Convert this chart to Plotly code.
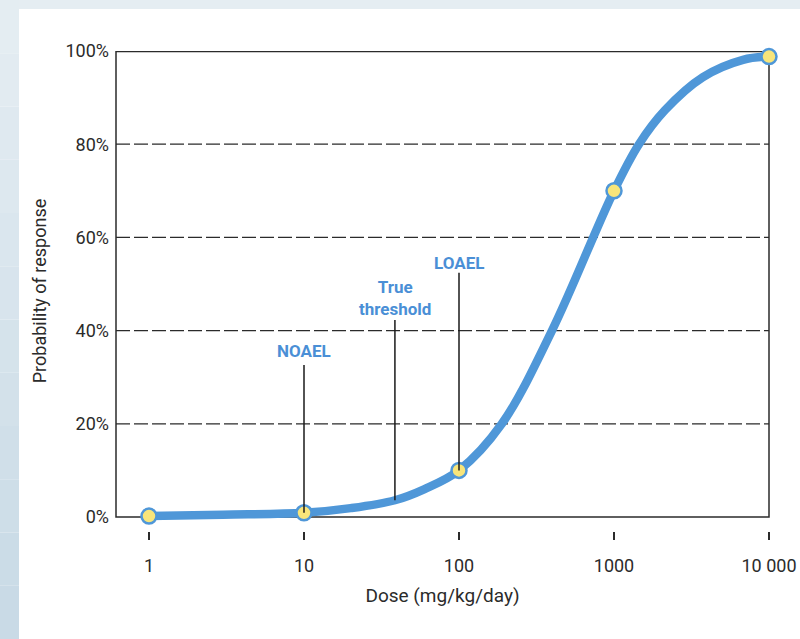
import numpy as np
import plotly.graph_objects as go

# ---- data ----
doses = [1, 10, 100, 1000, 10000]
probs = [0.2, 0.9, 10, 70, 98.8]

curve_dose = [1, 3, 10, 20, 38.6, 60, 100, 189, 398, 1000, 1449, 2133, 3750, 6790, 10000]
curve_prob = [0.2, 0.5, 0.9, 1.9, 3.6, 6, 10, 20, 40, 70, 80, 87.3, 94.4, 98.1, 98.8]

x_tickvals = [1, 10, 100, 1000, 10000]
x_ticktext = ["1", "10", "100", "1000", "10 000"]
y_tickvals = [0, 20, 40, 60, 80, 100]
y_ticktext = ["0%", "20%", "40%", "60%", "80%", "100%"]

markers_lbl = ["NOAEL", "True<br>threshold", "LOAEL"]
markers_dose = [10, 38.6, 100]
line_top = [32.6, 42.3, 52.4]
line_bottom = [0.9, 3.6, 10]
label_y = [35.6, 47.0, 54.6]

FONT = "Roboto, 'Liberation Sans', sans-serif"
BLUE = "#4f97d8"
LBL = "#4a8fd6"
YEL = "#f8e57a"
DARK = "#2b2b2b"

W, H = 800, 639
L, R, T, B = 116, 31, 51, 108
PW, PH = W - L - R, H - T - B

def px(x):
    return (x - L) / PW

def py(y):
    return (H - B - y) / PH

fig = go.Figure()

fig.add_trace(go.Scatter(
    x=curve_dose, y=curve_prob, mode="lines",
    line=dict(color=BLUE, width=8.5, shape="spline", smoothing=1.0),
    hoverinfo="skip", showlegend=False))

fig.add_trace(go.Scatter(
    x=doses, y=probs, mode="markers",
    marker=dict(size=15, color=YEL, line=dict(color=BLUE, width=2.5)),
    cliponaxis=False, showlegend=False))

for d, t, b in zip(markers_dose, line_top, line_bottom):
    fig.add_trace(go.Scatter(
        x=[d, d], y=[t, b], mode="lines",
        line=dict(color="#1a1a1a", width=1.5),
        hoverinfo="skip", showlegend=False))

for lbl, d, yv in zip(markers_lbl, markers_dose, label_y):
    fig.add_annotation(
        x=np.log10(d), y=yv, text="<b>" + lbl + "</b>", showarrow=False,
        font=dict(family=FONT, size=17, color=LBL),
        xanchor="center", yanchor="middle", align="center")

shapes = []
shapes.append(dict(type="rect", xref="paper", yref="paper",
                   x0=px(0), x1=px(W), y0=py(0), y1=py(9),
                   fillcolor="#e5edf2", line=dict(width=0), layer="below"))
n = 12
c0 = np.array([0xe6, 0xee, 0xf3])
c1 = np.array([0xc8, 0xda, 0xe6])
for i in range(n):
    c = (c0 + (c1 - c0) * (i + 0.5) / n).astype(int)
    shapes.append(dict(type="rect", xref="paper", yref="paper",
                       x0=px(0), x1=px(19),
                       y0=py(H * i / n), y1=py(H * (i + 1) / n),
                       fillcolor="rgb(%d,%d,%d)" % tuple(c),
                       line=dict(width=0), layer="below"))
shapes.append(dict(type="rect", xref="x domain", yref="y",
                   x0=0, x1=1, y0=0, y1=100,
                   line=dict(color=DARK, width=1.5), layer="below"))
shapes.append(dict(type="line", xref="x domain", yref="y",
                   x0=0, x1=1, y0=100, y1=100,
                   line=dict(color=DARK, width=2.5), layer="below"))
for v in [20, 40, 60, 80]:
    shapes.append(dict(type="line", xref="x domain", yref="y",
                       x0=0, x1=1, y0=v, y1=v,
                       line=dict(color=DARK, width=1.2, dash="14px,4px"),
                       layer="below"))

fig.update_layout(
    width=W, height=H,
    margin=dict(l=L, r=R, t=T, b=B, autoexpand=False),
    paper_bgcolor="white", plot_bgcolor="white",
    shapes=shapes,
    showlegend=False,
    font=dict(family=FONT, color=DARK, size=18),
    xaxis=dict(
        type="log", range=[-0.2129, 4.0], automargin=False,
        tickvals=x_tickvals, ticktext=x_ticktext,
        ticks="outside", ticklen=8, tickwidth=1.5, tickcolor=DARK,
        showgrid=False, showline=False, zeroline=False,
        ticklabelstandoff=10,
        tickfont=dict(family=FONT, size=18, color=DARK),
        title=dict(text="Dose (mg/kg/day)", standoff=14,
                   font=dict(family=FONT, size=19, color=DARK)),
    ),
    yaxis=dict(
        range=[-3.004, 100], automargin=False,
        tickvals=y_tickvals, ticktext=y_ticktext,
        ticks="", showgrid=False, showline=False, zeroline=False,
        ticklabelstandoff=6,
        tickfont=dict(family=FONT, size=18, color=DARK),
        title=dict(text="Probability of response", standoff=14,
                   font=dict(family=FONT, size=18, color=DARK)),
    ),
)

fig.write_html("out.html", config={"displayModeBar": False},
               post_script="document.body.style.margin='0';document.body.style.overflow='hidden';")
